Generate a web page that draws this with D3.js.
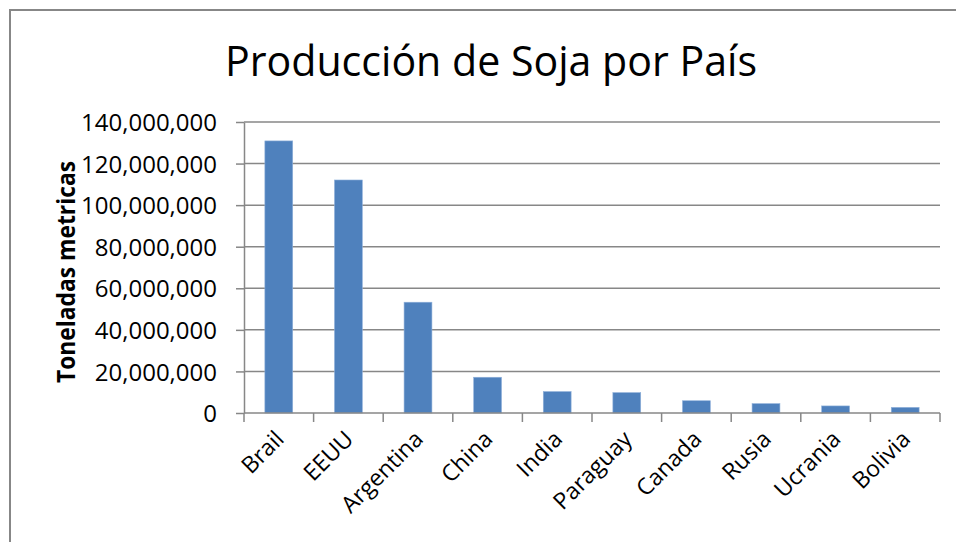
<!DOCTYPE html>
<html>
<head>
<meta charset="utf-8">
<script src="https://cdn.jsdelivr.net/npm/d3@7"></script>
<style>
  body { margin: 0; background: #fff; }
  text { font-family: "Open Sans", "Noto Sans", sans-serif; fill: #000; }
</style>
</head>
<body>
<svg width="956" height="542"></svg>
<script>
// data
const paises = ["Brail", "EEUU", "Argentina", "China", "India", "Paraguay", "Canada", "Rusia", "Ucrania", "Bolivia"]
const toneladas = [130900000, 112100000, 53300000, 17200000, 10300000, 9800000, 5900000, 4500000, 3400000, 2700000]
const yTicks = [0, 20000000, 40000000, 60000000, 80000000, 100000000, 120000000, 140000000]

let svg = d3.select("svg")
let margin = {top: 122, right: 16, bottom: 129, left: 244}
let width = svg.attr("width") - margin.left - margin.right
let height = svg.attr("height") - margin.top - margin.bottom
let grey = "#878787"

// outer chart border (runs off right / bottom edge)
svg.append("rect")
  .attr("x", 10).attr("y", 10)
  .attr("width", 980).attr("height", 600)
  .attr("fill", "none")
  .attr("stroke", grey)
  .attr("stroke-width", 2)

let x = d3.scaleBand().domain(paises).range([0, width]).paddingInner(0).paddingOuter(0)
let y = d3.scaleLinear().domain([0, 140000000]).range([height, 0])

let g = svg.append("g")
  .attr("transform", "translate(" + margin.left + "," + margin.top + ")")

// gridlines
g.append("g")
  .selectAll("line")
  .data(yTicks.slice(1))
  .join("line")
  .attr("x1", 0).attr("x2", width)
  .attr("y1", d => y(d)).attr("y2", d => y(d))
  .attr("stroke", grey)
  .attr("stroke-width", 1.5)

// bars, excel style gap width 150%
let barW = x.bandwidth() / 2.5
g.append("g")
  .selectAll("rect")
  .data(paises)
  .join("rect")
  .attr("x", (d, i) => x(d) + (x.bandwidth() - barW) / 2)
  .attr("y", (d, i) => y(toneladas[i]))
  .attr("width", barW)
  .attr("height", (d, i) => height - y(toneladas[i]))
  .attr("fill", "#4F81BD")
  .attr("stroke", "#8FB0DA")
  .attr("stroke-width", 0.6)

// y axis
let yAxis = g.append("g")
  .call(d3.axisLeft(y).tickValues(yTicks).tickFormat(d3.format(",")).tickSizeInner(8).tickSizeOuter(0).tickPadding(19))
yAxis.select(".domain").attr("stroke", grey).attr("stroke-width", 1.5)
yAxis.selectAll(".tick line").attr("stroke", grey).attr("stroke-width", 1.5)
yAxis.selectAll("text").attr("font-size", 24).attr("font-family", "Open Sans").attr("dy", "0.36em")

// x axis: ticks on category boundaries
let xg = g.append("g").attr("transform", "translate(0," + height + ")")
xg.append("line")
  .attr("x1", 0).attr("x2", width)
  .attr("stroke", grey).attr("stroke-width", 1.5)
xg.selectAll("line.tk")
  .data(d3.range(paises.length + 1))
  .join("line")
  .attr("class", "tk")
  .attr("x1", i => i < paises.length ? x(paises[i]) : width)
  .attr("x2", i => i < paises.length ? x(paises[i]) : width)
  .attr("y1", 0).attr("y2", 9)
  .attr("stroke", grey).attr("stroke-width", 1.5)
xg.selectAll("text")
  .data(paises)
  .join("text")
  .attr("transform", d => "translate(" + (x(d) + x.bandwidth() / 2 - 5) + ",16) rotate(-45)")
  .attr("text-anchor", "end")
  .attr("dy", "0.71em")
  .attr("font-size", 23)
  .text(d => d)

// y axis title, squeezed a bit (original font is narrower)
svg.append("text")
  .attr("transform", "translate(75,272) rotate(-90)")
  .attr("text-anchor", "middle")
  .attr("font-weight", "bold")
  .attr("font-size", 25)
  .attr("textLength", 222)
  .attr("lengthAdjust", "spacingAndGlyphs")
  .text("Toneladas metricas")

// title
svg.append("text")
  .attr("x", 491)
  .attr("y", 76)
  .attr("text-anchor", "middle")
  .attr("font-size", 42)
  .attr("textLength", 532)
  .attr("lengthAdjust", "spacingAndGlyphs")
  .text("Producción de Soja por País")
</script>
</body>
</html>
